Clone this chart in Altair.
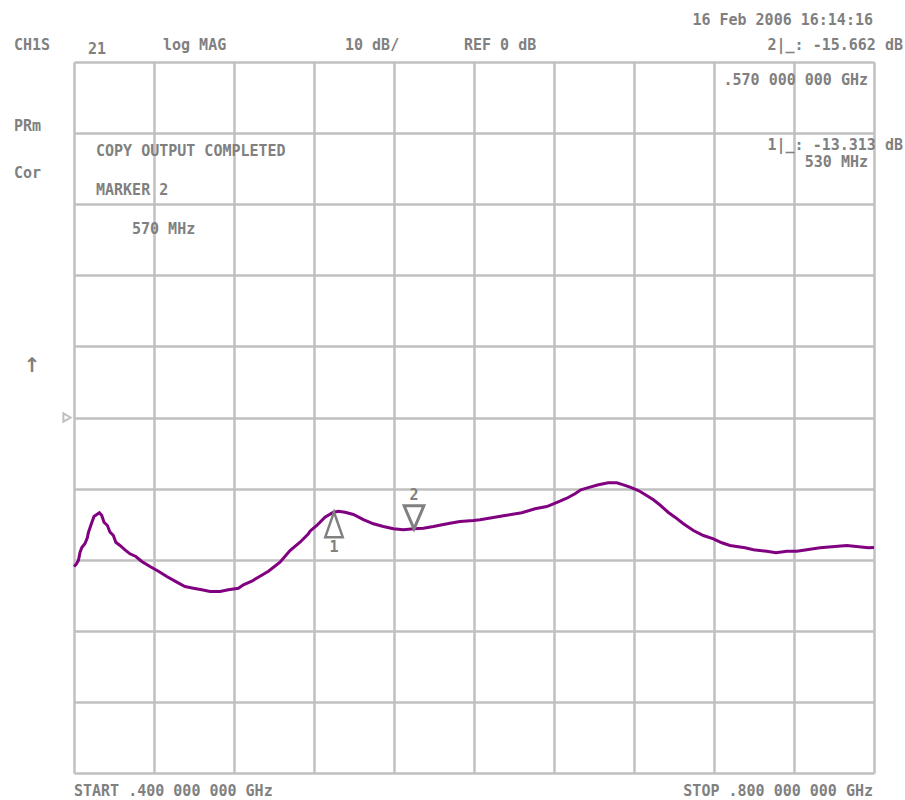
import altair as alt
import pandas as pd

# S21 log-magnitude sweep, 400-800 MHz (REF 0 dB, 10 dB/div)
freq_mhz = [
    400, 401, 402.2, 403, 403.9, 405.5, 406.7, 407.2, 408.9, 410, 411.4, 412.7,
    413.9, 415, 416.7, 418, 419.7, 420.9, 423, 425.5, 428, 430.9, 433.9, 438,
    442.2, 446.4, 451.4, 455.5, 459.7, 463.9, 468, 473, 477.2, 482.2, 484.7,
    488.9, 493, 497.2, 503, 508, 513, 517.2, 518, 521.4, 525.5, 528.9, 530,
    532.2, 535.5, 539.7, 544.7, 549.7, 554.7, 559.7, 564.7, 570, 574.7, 579.7,
    584.7, 588, 593, 599.7, 603, 608.9, 615.5, 623.9, 630.5, 636.4, 639.7, 643,
    646.4, 650.5, 653.4, 658, 662.2, 667.2, 671.4, 674.7, 678, 682.2, 685.5,
    689.7, 693, 697.2, 700.5, 704.7, 709.7, 714.7, 719.7, 723.9, 728, 735.5,
    739.7, 746.4, 751, 756.4, 761.4, 766.4, 773, 786.4, 797.2, 800,
]
s21_db = [
    -20.96, -20.68, -20.11, -18.99, -18.28, -17.72, -16.88, -16.17, -14.77,
    -13.92, -13.64, -13.40, -13.78, -14.73, -15.19, -16.13, -16.60, -17.54,
    -18.00, -18.61, -19.17, -19.55, -20.25, -20.96, -21.62, -22.36, -23.16,
    -23.77, -24.01, -24.23, -24.47, -24.47, -24.23, -24.01, -23.53, -23.02,
    -22.32, -21.62, -20.35, -18.71, -17.54, -16.36, -15.99, -15.19, -14.02,
    -13.46, -13.313, -13.19, -13.33, -13.64, -14.35, -14.95, -15.33, -15.65,
    -15.79, -15.662, -15.57, -15.33, -15.05, -14.87, -14.63, -14.49, -14.39,
    -14.11, -13.78, -13.40, -12.84, -12.52, -12.14, -11.77, -11.35, -10.73,
    -10.17, -9.80, -9.47, -9.18, -9.18, -9.47, -9.80, -10.27, -10.83, -11.58,
    -12.31, -13.36, -14.02, -14.95, -15.89, -16.60, -17.06, -17.62, -18.00,
    -18.33, -18.61, -18.80, -19.03, -18.80, -18.80, -18.61, -18.33, -18.00,
    -18.33, -18.28,
]

# Marker readouts
marker_id = [1, 2]
marker_freq_mhz = [530, 570]
marker_db = [-13.313, -15.662]

# Graticule: 10 divisions each way
x_ticks = list(range(400, 801, 40))
y_ticks = list(range(-50, 51, 10))
ref_level_db = [0]

TRACE = "#800080"
GRID = "#c0c0c0"
TEXT = "#808080"
FONT = "DejaVu Sans Mono"

trace = pd.DataFrame({"freq": freq_mhz, "db": s21_db})
markers = pd.DataFrame({"id": marker_id, "freq": marker_freq_mhz, "db": marker_db})
ref = pd.DataFrame({"db": ref_level_db})
dummy = pd.DataFrame({"k": [0]})

x_scale = alt.Scale(domain=[400, 800], nice=False, zero=False)
y_scale = alt.Scale(domain=[-50, 50], nice=False, zero=False)


def x_axis():
    return alt.Axis(values=x_ticks, grid=True, labels=False, ticks=False,
                    domain=False, title=None, gridColor=GRID, gridWidth=2.5,
                    gridOpacity=1)


def y_axis():
    return alt.Axis(values=y_ticks, grid=True, labels=False, ticks=False,
                    domain=False, title=None, gridColor=GRID, gridWidth=2.5,
                    gridOpacity=1)


X = alt.X("freq:Q", scale=x_scale, axis=x_axis())
Y = alt.Y("db:Q", scale=y_scale, axis=y_axis())

line = alt.Chart(trace).mark_line(color=TRACE, strokeWidth=3).encode(x=X, y=Y)

# Marker 1: open triangle pointing up to the trace; marker 2: pointing down
m1 = alt.Chart(markers).transform_filter("datum.id == 1").mark_point(
    shape="M0,0L-0.35,1L0.35,1Z", size=2500, filled=False,
    stroke=TEXT, strokeWidth=2.5, opacity=1,
).encode(x=X, y=Y)
m2 = alt.Chart(markers).transform_filter("datum.id == 2").mark_point(
    shape="M0,0L-0.43,-1L0.43,-1Z", size=2116, filled=False,
    stroke=TEXT, strokeWidth=3, opacity=1,
).encode(x=X, y=Y)
m1_lab = alt.Chart(markers).transform_filter("datum.id == 1").mark_text(
    font=FONT, fontSize=15, fontWeight="bold", color=TEXT,
    baseline="middle", dy=35,
).encode(x=X, y=Y, text="id:N")
m2_lab = alt.Chart(markers).transform_filter("datum.id == 2").mark_text(
    font=FONT, fontSize=15, fontWeight="bold", color=TEXT,
    baseline="middle", dy=-34,
).encode(x=X, y=Y, text="id:N")

# Reference-level pointer at the left edge
ref_mark = alt.Chart(ref).mark_point(
    shape="triangle-right", size=70, filled=False, stroke=GRID,
    strokeWidth=2, opacity=1,
).encode(x=alt.value(-7), y=Y)


def label(text, x, y, align="left", size=15, font=FONT):
    return alt.Chart(dummy).mark_text(
        text=text, align=align, baseline="middle", font=font,
        fontSize=size, fontWeight="bold", color=TEXT,
    ).encode(x=alt.value(x), y=alt.value(y))


labels = [
    label("16 Feb 2006  16:14:16", 799, -42, "right"),
    label("CH1S", -60, -17.5),
    label("21", 14, -13),
    label("log MAG", 89, -17.5),
    label("10 dB/", 271, -17.5),
    label("REF 0 dB", 390, -17.5),
    label("2|_: -15.662 dB", 829, -17.5, "right"),
    label(".570 000 000 GHz", 794, 18, "right"),
    label("1|_: -13.313 dB", 829, 83, "right"),
    label("530 MHz", 794, 100, "right"),
    label("PRm", -60, 64),
    label("Cor", -60, 111),
    label("COPY OUTPUT COMPLETED", 22, 89),
    label("MARKER 2", 22, 128),
    label("570 MHz", 58, 167),
    label("\u2191", -42, 304, "center", size=20, font="DejaVu Sans"),
    label("START .400 000 000 GHz", 0, 729),
    label("STOP .800 000 000 GHz", 799, 729, "right"),
]

chart = alt.layer(
    line, m1, m2, m1_lab, m2_lab, ref_mark, *labels
).properties(
    width=800,
    height=711,
    autosize=alt.AutoSizeParams(type="none"),
    padding={"left": 74, "top": 62, "right": 31, "bottom": 27},
    background="white",
).configure_view(
    stroke=None,
)

chart.save("out.html", embed_options={"renderer": "svg", "actions": False})
